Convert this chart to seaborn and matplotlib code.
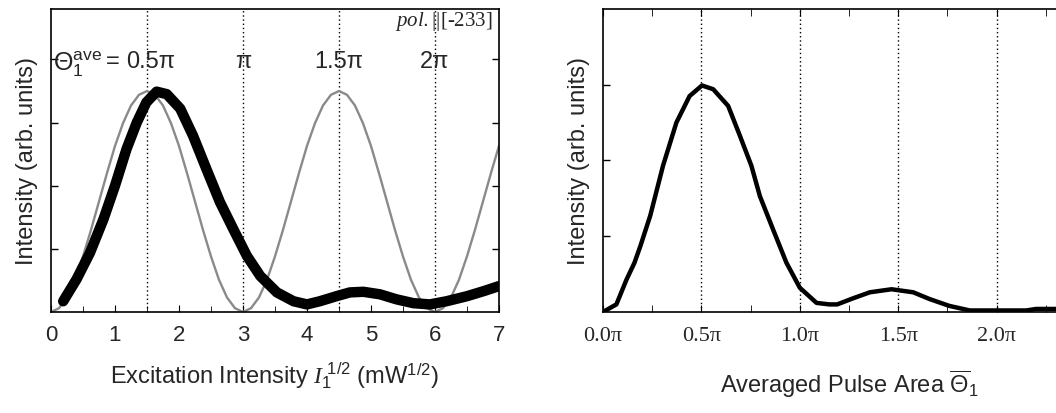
#Rabi oscillation figure: intensity vs excitation and averaged pulse area
import numpy as np
import pandas as pd
import seaborn as sns
import matplotlib
matplotlib.use("Agg")
import matplotlib.pyplot as plt
from matplotlib.ticker import MultipleLocator

#Datos leidos de la figura
# panel izquierdo: medicion (curva negra gruesa)
x_meas = [0.19, 0.40, 0.61, 0.82, 1.00, 1.18, 1.34, 1.49, 1.65, 1.81, 2.02, 2.22,
          2.43, 2.64, 2.85, 3.06, 3.27, 3.53, 3.79, 4.00, 4.20, 4.46, 4.67, 4.88,
          5.14, 5.40, 5.66, 5.92, 6.18, 6.50, 6.76, 7.00]
y_meas = [0.17, 0.52, 0.94, 1.47, 2.00, 2.58, 3.00, 3.32, 3.49, 3.45, 3.22, 2.79,
          2.26, 1.74, 1.31, 0.89, 0.57, 0.31, 0.17, 0.12, 0.17, 0.25, 0.31, 0.32,
          0.28, 0.20, 0.14, 0.12, 0.17, 0.25, 0.33, 0.41]
# panel izquierdo: modelo (curva gris)
x_model = [0.000, 0.125, 0.250, 0.375, 0.500, 0.625, 0.750, 0.875, 1.000, 1.125,
           1.250, 1.375, 1.500, 1.625, 1.750, 1.875, 2.000, 2.125, 2.250, 2.375,
           2.500, 2.625, 2.750, 2.875, 3.000, 3.125, 3.250, 3.375, 3.500, 3.625,
           3.750, 3.875, 4.000, 4.125, 4.250, 4.375, 4.500, 4.625, 4.750, 4.875,
           5.000, 5.125, 5.250, 5.375, 5.500, 5.625, 5.750, 5.875, 6.000, 6.125,
           6.250, 6.375, 6.500, 6.625, 6.750, 6.875, 7.000]
y_model = [0.00, 0.06, 0.23, 0.51, 0.88, 1.30, 1.75, 2.20, 2.63, 2.99,
           3.27, 3.44, 3.50, 3.44, 3.27, 2.99, 2.63, 2.20, 1.75, 1.30,
           0.88, 0.51, 0.23, 0.06, 0.00, 0.06, 0.23, 0.51, 0.88, 1.30,
           1.75, 2.20, 2.63, 2.99, 3.27, 3.44, 3.50, 3.44, 3.27, 2.99,
           2.63, 2.20, 1.75, 1.30, 0.88, 0.51, 0.23, 0.06, 0.00, 0.06,
           0.23, 0.51, 0.88, 1.30, 1.75, 2.20, 2.63]
# panel derecho: area de pulso promedio (en unidades de pi)
area = [0.00, 0.068, 0.12, 0.16, 0.19, 0.24, 0.305, 0.373, 0.44, 0.503, 0.56, 0.636,
        0.695, 0.754, 0.797, 0.864, 0.932, 1.00, 1.085, 1.15, 1.19, 1.27, 1.356,
        1.466, 1.576, 1.66, 1.76, 1.864, 2.00, 2.15, 2.20, 2.35]
intens = [0.00, 0.10, 0.43, 0.65, 0.87, 1.27, 1.93, 2.50, 2.85, 2.99, 2.94, 2.72,
          2.33, 1.93, 1.53, 1.09, 0.65, 0.32, 0.12, 0.10, 0.10, 0.18, 0.26,
          0.30, 0.26, 0.17, 0.08, 0.02, 0.02, 0.02, 0.04, 0.04]

pulse_pos = [1.5, 3.0, 4.5, 6.0]
pulse_lab = ["0.5\u03c0", "\u03c0", "1.5\u03c0", "2\u03c0"]
area_ticks = [0.0, 0.5, 1.0, 1.5, 2.0]
area_labels = ["0.0\u03c0", "0.5\u03c0", "1.0\u03c0", "1.5\u03c0", "2.0\u03c0"]

df_meas = pd.DataFrame({"x": x_meas, "y": y_meas})
df_model = pd.DataFrame({"x": x_model, "y": y_model})
df_area = pd.DataFrame({"x": area, "y": intens})

sns.set_style("ticks")
plt.rcParams['font.family'] = ['Liberation Sans', 'DejaVu Sans']
plt.rcParams['mathtext.fontset'] = 'custom'
plt.rcParams['mathtext.rm'] = 'Liberation Sans'
plt.rcParams['mathtext.it'] = 'Liberation Serif:italic'
plt.rcParams['mathtext.bf'] = 'Liberation Sans:bold'

fig = plt.figure(figsize=(10.56, 4.14), dpi=100)
ax1 = fig.add_axes([0.0483, 0.244, 0.4242, 0.732])
ax2 = fig.add_axes([0.571, 0.244, 0.466, 0.732])

#Grafico izquierdo
sns.lineplot(data=df_model, x="x", y="y", ax=ax1, color="#8a8a8a", lw=1.7, sort=False)
sns.lineplot(data=df_meas, x="x", y="y", ax=ax1, color="black", lw=7.5, sort=False,
             solid_capstyle="round", solid_joinstyle="round")
for p in pulse_pos:
    ax1.axvline(p, color="black", ls=(0, (1, 2)), lw=1, zorder=0)
ax1.text(0.03, 3.94, r"$\Theta_1^{\mathrm{ave}}$", fontsize=18, va="center", ha="left")
ax1.text(0.86, 3.97, "=", fontsize=17, va="center", ha="left")
for p, lab in zip(pulse_pos, pulse_lab):
    xp = 1.56 if p == 1.5 else p
    ax1.text(xp, 3.97, lab, fontsize=17, va="center", ha="center")
ax1.text(6.9, 4.62, r"$\mathit{pol.}$||[-233]", fontsize=15, va="center", ha="right",
         family=["Liberation Serif"])
ax1.set_xlim(0, 7)
ax1.set_ylim(0, 4.8)
ax1.xaxis.set_major_locator(MultipleLocator(1))
ax1.xaxis.set_minor_locator(MultipleLocator(0.5))
ax1.set_yticks([1, 2, 3, 4])
ax1.set_yticklabels([])
ax1.tick_params(axis="both", which="both", direction="in", right=True, top=False,
                color="black")
ax1.tick_params(axis="x", which="major", length=5, labelsize=16, pad=9)
ax1.tick_params(axis="x", which="minor", length=4)
ax1.tick_params(axis="y", length=5, width=1)
ax1.set_xlabel(r"Excitation Intensity $\mathit{I}_{1}^{\ 1/2}$ (mW$^{1/2}$)", fontsize=17, labelpad=10)
ax1.set_ylabel("Intensity (arb. units)", fontsize=17, labelpad=6)

#Grafico derecho
sns.lineplot(data=df_area, x="x", y="y", ax=ax2, color="black", lw=3.2, sort=False)
for p in area_ticks[1:]:
    ax2.axvline(p, color="black", ls=(0, (1, 2)), lw=1, zorder=0)
ax2.set_xlim(0, 2.5)
ax2.set_ylim(0, 4.0)
ax2.set_xticks(area_ticks)
ax2.set_xticklabels(area_labels, family=["Liberation Serif"], fontsize=16)
ax2.xaxis.set_minor_locator(MultipleLocator(0.25))
ax2.set_yticks([1, 2, 3])
ax2.set_yticklabels([])
ax2.tick_params(axis="both", which="both", direction="in", top=True, right=False,
                color="black")
ax2.tick_params(axis="x", which="major", length=5, pad=10)
ax2.tick_params(axis="x", which="minor", length=5)
ax2.tick_params(axis="y", length=5, width=1)
ax2.set_xlabel(r"Averaged Pulse Area $\overline{\Theta}_1$", fontsize=17, labelpad=16)
ax2.set_ylabel("Intensity (arb. units)", fontsize=17, labelpad=6)

for ax in (ax1, ax2):
    for s in ax.spines.values():
        s.set_linewidth(1.2)
        s.set_color("black")

plt.savefig("out.png", dpi=100)
